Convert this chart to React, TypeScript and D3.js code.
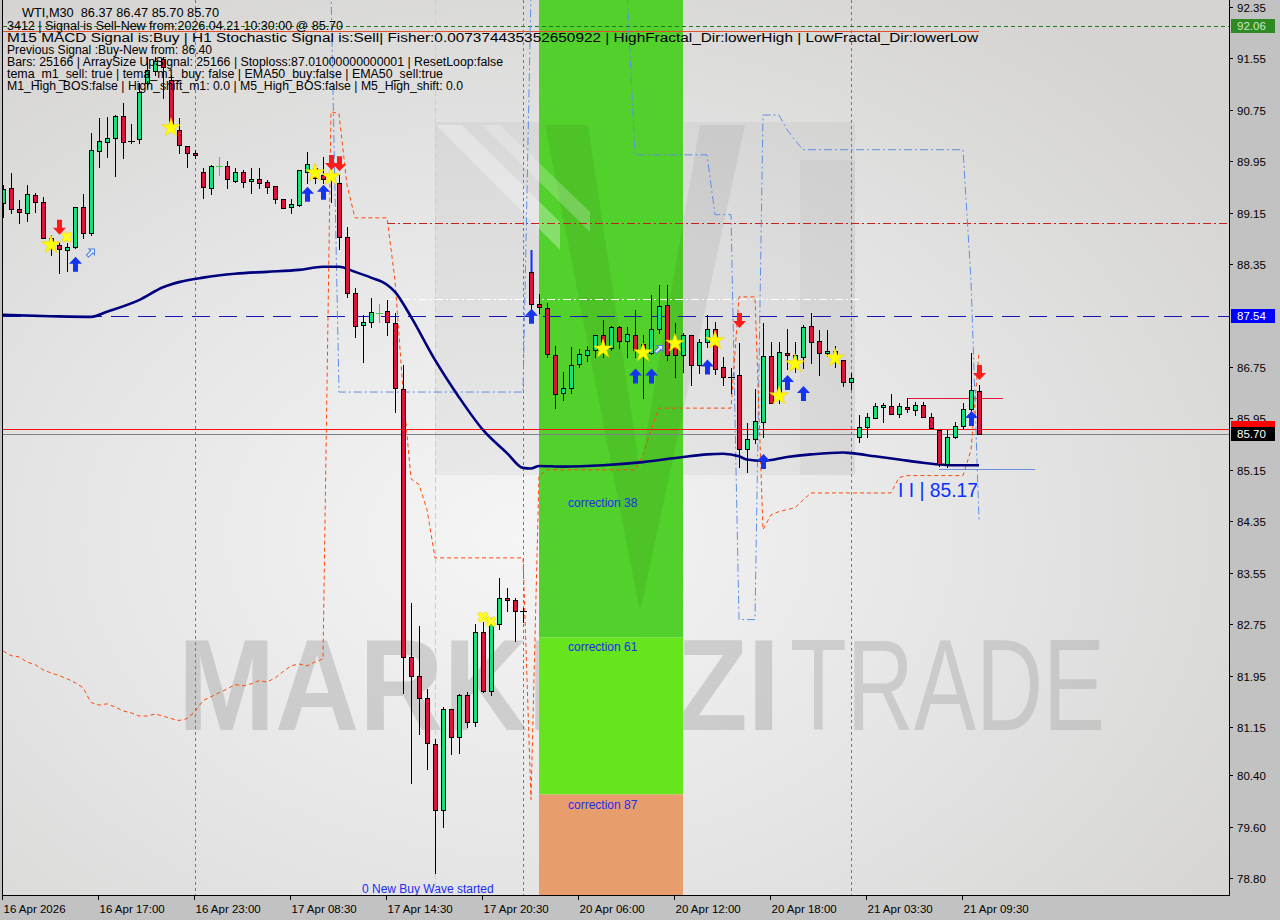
import React from "react";
import * as d3 from "d3";

// ---------- candles (M30, WTI) ----------
const open = [89.30,89.54,89.21,89.15,89.43,89.32,88.76,88.65,88.57,88.62,89.24,88.84,90.11,90.25,90.31,90.66,90.26,90.30,91.17,91.36,91.54,91.22,90.44,90.19,90.08,89.78,89.54,89.88,89.88,89.64,89.78,89.64,89.68,89.63,89.57,89.36,89.24,89.27,89.78,89.85,89.74,89.72,89.61,88.77,87.90,87.40,87.45,87.59,87.62,87.44,86.41,82.24,81.95,81.60,80.89,79.86,81.43,81.00,81.65,81.23,82.63,81.71,82.75,83.16,83.12,82.95,88.23,87.73,87.67,86.94,86.35,86.43,86.80,86.94,87.02,87.25,87.05,87.37,87.16,87.25,87.10,86.97,87.34,87.72,87.13,86.94,87.25,86.78,87.14,87.34,86.75,86.60,86.63,85.48,85.63,85.90,86.92,86.30,86.97,86.83,86.91,87.39,87.16,86.97,87.00,86.86,86.52,85.66,85.82,85.96,86.13,86.15,86.02,86.13,86.08,86.16,85.97,85.77,85.24,85.66,85.83,86.10,86.37];
const high = [89.58,89.77,89.35,89.58,89.46,89.40,88.80,88.70,88.68,89.24,89.44,90.39,90.62,90.64,90.67,90.86,90.53,91.17,91.57,91.57,91.57,91.29,90.62,90.19,90.13,89.85,89.89,90.02,89.96,89.85,89.82,89.85,89.85,89.66,89.57,89.36,89.36,89.82,90.10,89.89,90.02,89.85,89.74,88.93,87.98,87.56,87.82,87.73,87.79,87.59,86.78,83.08,82.72,81.74,80.97,81.46,81.43,81.67,81.70,82.75,82.79,82.85,83.46,83.31,83.16,83.00,88.57,87.89,87.75,87.08,86.67,87.06,87.03,87.08,87.25,87.48,87.39,87.39,87.37,87.64,87.25,87.87,88.03,88.03,87.44,87.28,87.25,87.19,87.56,87.45,86.91,86.74,87.13,85.88,86.41,87.44,87.14,87.14,87.34,87.14,87.41,87.59,87.33,87.33,87.08,86.86,86.66,86.01,86.04,86.19,86.19,86.33,86.19,86.27,86.21,86.21,86.04,85.77,85.77,85.90,86.19,86.97,86.47];
const low = [89.08,89.15,88.99,89.02,89.16,88.76,88.49,88.21,88.25,88.60,88.76,88.80,89.86,90.02,89.72,90.00,90.24,90.24,91.11,91.29,90.94,90.47,90.08,89.86,90.00,89.38,89.44,89.74,89.54,89.63,89.55,89.46,89.54,89.46,89.30,89.22,89.15,89.26,89.61,89.61,89.61,89.32,88.59,87.84,87.22,86.83,87.37,87.45,87.25,86.05,81.68,80.28,81.04,80.50,78.88,79.60,80.73,80.75,81.15,81.17,81.70,81.64,82.68,82.95,82.48,82.79,87.59,87.59,86.91,86.11,86.24,86.35,86.75,86.85,86.91,86.91,87.02,87.05,86.91,86.91,86.27,86.95,87.28,86.86,86.60,86.67,86.47,86.66,87.06,86.64,86.47,86.35,85.20,85.12,85.57,85.66,86.19,86.19,86.72,86.67,86.74,86.81,86.63,86.92,86.75,86.46,86.41,85.59,85.66,85.96,85.90,86.02,85.97,86.05,86.01,85.97,85.80,85.21,85.20,85.65,85.79,85.97,85.70];
const close = [89.52,89.21,89.16,89.44,89.32,88.76,88.65,88.59,88.62,89.24,88.84,90.13,90.27,90.31,90.66,90.25,90.26,91.03,91.37,91.51,91.42,90.52,90.20,90.08,90.05,89.55,89.88,89.88,89.68,89.78,89.63,89.68,89.61,89.55,89.36,89.22,89.29,89.82,89.91,89.69,89.68,89.66,88.77,87.90,87.39,87.45,87.61,87.59,87.45,86.43,82.24,81.95,81.60,80.90,79.86,81.43,81.00,81.65,81.23,82.63,81.71,82.75,83.15,83.12,82.95,82.95,87.73,87.68,86.95,86.33,86.43,86.78,86.95,87.02,87.25,87.08,87.37,87.16,87.27,87.02,86.97,87.34,87.70,86.94,86.94,87.25,86.78,87.14,87.34,86.72,86.60,86.60,85.48,85.63,85.91,86.92,86.19,86.98,86.94,86.94,87.37,87.14,86.97,87.00,86.92,86.52,86.58,85.82,85.97,86.15,86.16,86.02,86.15,86.10,86.16,85.97,85.80,85.24,85.66,85.83,86.10,86.39,85.70];
const limeDojiBars = [27, 47];
const blueWickBars = [66];

// ---------- axes ----------
const xTickBars = [0, 12, 24, 36, 48, 60, 72, 84, 96, 108, 120];
const xTickLabels = ["16 Apr 2026", "16 Apr 17:00", "16 Apr 23:00", "17 Apr 08:30", "17 Apr 14:30", "17 Apr 20:30", "20 Apr 06:00", "20 Apr 12:00", "20 Apr 18:00", "21 Apr 03:30", "21 Apr 09:30"];
const yTickLabels = ["92.35", "91.55", "90.75", "89.95", "89.15", "88.35", "86.75", "85.95", "85.15", "84.35", "83.55", "82.75", "81.95", "81.15", "80.40", "79.60", "78.80"];

// ---------- indicators ----------
const emaBars = [0,6,11,13,17,20,22,25,29,33,37,40,42,44,46,48,49,51,54,57,60,63,65,66,67,70,75,80,85,88,90,92,93,95,98,101,105,106,109,112,115,119,122];
const emaValues = [87.56,87.54,87.53,87.61,87.79,87.99,88.07,88.14,88.20,88.23,88.26,88.31,88.31,88.23,88.14,88.03,87.92,87.53,86.86,86.28,85.77,85.41,85.18,85.17,85.21,85.20,85.22,85.27,85.35,85.39,85.40,85.36,85.31,85.29,85.35,85.39,85.42,85.41,85.36,85.31,85.26,85.22,85.22];

const stopValues = [82.33,82.26,82.24,82.16,82.12,82.04,81.99,81.95,81.90,81.84,81.76,81.53,81.49,81.51,81.46,81.40,81.37,81.32,81.32,81.35,81.32,81.28,81.25,81.28,81.39,81.56,81.62,81.68,81.74,81.81,81.79,81.82,81.87,81.85,81.91,82.01,82.10,82.13,82.10,82.16,82.21,
  90.72,90.69,89.58,89.07,89.07,89.07,89.07,89.07,88.10,86.39,85.01,84.92,84.53,83.78,83.78,83.78,83.78,83.78,83.78,83.78,83.78,83.78,83.78,83.78,83.78,
  80.02,85.06,85.15,85.15,85.15,85.15,85.15,85.15,85.15,85.15,85.15,85.15,85.15,85.15,85.38,85.77,86.11,86.11,86.11,86.11,86.11,86.11,86.11,86.11,86.11,86.11,87.84,87.84,87.84,84.22,84.45,84.50,84.53,84.56,84.68,84.79,84.79,84.79,84.79,84.79,84.79,84.79,84.79,84.79,84.79,84.79,85.03,85.06,85.06,85.06,85.06,85.06,85.06,85.06,85.06,85.46,86.98];

const bandStartBar = 41;
const bandValues = [92.60,
  86.36,86.36,86.36,86.36,86.36,86.36,86.36,86.36,86.36,86.36,86.36,86.36,86.36,86.36,86.36,86.36,86.36,86.36,86.36,86.36,86.36,86.36,86.36,86.36,
  92.60,92.60,92.60,92.60,92.60,92.60,92.60,92.60,92.60,92.60,92.60,92.60,92.60,
  90.05,90.05,90.05,90.05,90.05,90.05,90.05,90.05,90.05,90.05,
  89.12,89.12,89.12,82.82,82.82,82.82,90.67,90.67,90.67,90.44,90.28,
  90.13,90.13,90.13,90.13,90.13,90.13,90.13,90.13,90.13,90.13,90.13,90.13,90.13,90.13,90.13,90.13,90.13,90.13,90.13,90.13,90.13,
  88.10,84.37];

// ---------- markers ----------
const starBars = [6, 21, 39, 41, 75, 80, 84, 89, 97, 99, 104];
const starPrices = [88.65, 90.47, 89.77, 89.71, 87.03, 86.97, 87.12, 87.16, 86.30, 86.80, 86.89];
const crossBars = [8, 60, 61];
const crossPrices = [88.77, 82.86, 82.79];
const upArrowBars = [9, 38, 40, 66, 79, 81, 88, 95, 98, 100, 121];
const upArrowPrices = [88.34, 89.43, 89.46, 87.53, 86.60, 86.60, 86.74, 85.27, 86.50, 86.33, 85.94];
const downArrowBars = [7, 41, 42, 92, 122];
const downArrowPrices = [88.93, 89.94, 89.92, 87.48, 86.67];
const diagArrowBars = [11, 82];
const diagArrowPrices = [88.53, 87.03];

// ---------- levels ----------
const askLevel = 92.06;
const topRedLevel = 91.98;
const stopLevel = 87.54;
const darkRedLevel = 88.99;
const whiteLevel = 87.81;
const redLevel = 85.79;
const bidLevel = 85.70;
const shortRedLevel = 86.27;
const waveLevel = 85.17;

// correction zone
const zoneStartBar = 67;
const zoneEndBar = 85;
const zoneTop = 92.7;
const zone61 = 82.54;
const zone87 = 80.10;
const zoneBottom = 78.5;
const zoneLabels = ["correction 38", "correction 61", "correction 87"];
const zoneLabelPrices = [84.57, 82.33, 79.88];

const infoLines = [
  "WTI,M30  86.37 86.47 85.70 85.70",
  "3412 | Signal is Sell-New from:2026.04.21 10:30:00 @ 85.70",
  "M15 MACD Signal is:Buy | H1 Stochastic Signal is:Sell| Fisher:0.007374435352650922 | HighFractal_Dir:lowerHigh | LowFractal_Dir:lowerLow",
  "Previous Signal :Buy-New from: 86.40",
  "Bars: 25166 | ArraySize UpSignal: 25166 | Stoploss:87.01000000000001 | ResetLoop:false",
  "tema_m1_sell: true | tema_m1_buy: false | EMA50_buy:false | EMA50_sell:true",
  "M1_High_BOS:false | High_shift_m1: 0.0 | M5_High_BOS:false | M5_High_shift: 0.0",
];
const infoWidths = [197, 336, 971, 205, 496, 436, 456];
const infoX = [22, 7, 7, 7, 7, 7, 7];
const infoY = [17, 30, 42, 54, 66, 78, 90];

const FONT = "'Liberation Sans', Arial, sans-serif";

export default function App() {
  const x = d3.scaleLinear().domain([0, 122]).range([3, 979]);
  const y = d3.scaleLinear().domain([78.8, 92.35]).range([878, 7]);
  const bars = d3.range(close.length);
  const plotL = 3, plotR = 1229, plotB = 895;

  const emaLine = d3.line<number>().x((d, k) => x(emaBars[k])).y(d => y(d)).curve(d3.curveMonotoneX);
  const stopLine = d3.line<number>().x((d, k) => x(k)).y(d => y(d));
  const bandLine = d3.line<number>().x((d, k) => x(bandStartBar + k)).y(d => y(d));

  const starPath = d3.symbol(d3.symbolStar, 110)() as string;
  const crossPath = d3.symbol(d3.symbolCross, 70)() as string;
  const upArrow = "M0,-8 L6.5,-1 L2.5,-1 L2.5,7 L-2.5,7 L-2.5,-1 L-6.5,-1 Z";
  const downArrow = "M0,8 L6.5,1 L2.5,1 L2.5,-7 L-2.5,-7 L-2.5,1 L-6.5,1 Z";
  const diagArrow = "M0,-5 L4,-1 L1.5,-1 L1.5,5 L-1.5,5 L-1.5,-1 L-4,-1 Z";

  const hy = (v: number) => Math.round(y(v)) + 0.5;

  return (
    <svg width={1280} height={920} style={{ position: "absolute", left: 0, top: 0, display: "block" }} fontFamily={FONT}>
      <defs>
        <radialGradient id="bgGrad" cx="0.42" cy="0.6" r="0.72">
          <stop offset="0" stopColor="#f5f5f5" />
          <stop offset="0.55" stopColor="#e4e4e4" />
          <stop offset="1" stopColor="#d5d4d2" />
        </radialGradient>
        <clipPath id="plotClip">
          <rect x={plotL} y={0} width={plotR - plotL} height={plotB} />
        </clipPath>
      </defs>
      <rect x={0} y={0} width={1280} height={920} fill="#c2c2c2" />
      <rect x={plotL} y={0} width={plotR - plotL} height={plotB} fill="url(#bgGrad)" />

      <g clipPath="url(#plotClip)">
        {/* watermark text */}
        <text x={178} y={730} fontSize={130} fontWeight="bold" fill="#9c9c9c" opacity={0.38} textLength={602} lengthAdjust="spacingAndGlyphs">MARKETZI</text>
        <text x={790} y={730} fontSize={130} fill="#a8a8a8" opacity={0.42} textLength={315} lengthAdjust="spacingAndGlyphs">TRADE</text>

        {/* logo box */}
        <rect x={435} y={122} width={420} height={353} fill="#000" opacity={0.04} />

        {/* correction zone */}
        <rect x={x(zoneStartBar)} y={y(zoneTop)} width={x(zoneEndBar) - x(zoneStartBar)} height={y(zone61) - y(zoneTop)} fill="#52d02b" />
        <rect x={x(zoneStartBar)} y={y(zone61)} width={x(zoneEndBar) - x(zoneStartBar)} height={y(zone87) - y(zone61)} fill="#66e41c" />
        <rect x={x(zoneStartBar)} y={y(zone87)} width={x(zoneEndBar) - x(zoneStartBar)} height={y(zoneBottom) - y(zone87)} fill="#e89e6c" />

        {/* logo shapes */}
        <polygon points="545,125 588,125 640,470 700,125 745,125 640,612" fill="#000" opacity={0.06} />
        <polygon points="436,125 462,125 560,222 560,250" fill="#fff" opacity={0.3} />
        <polygon points="482,125 500,125 590,212 590,232" fill="#fff" opacity={0.22} />
        <polygon points="800,160 855,160 855,475 800,475" fill="#000" opacity={0.03} />

        {zoneLabels.map((t, k) => (
          <text key={t} x={x(zoneStartBar) + 29} y={y(zoneLabelPrices[k])} fontSize={12} fill="#1c2cf0">{t}</text>
        ))}
        <text x={362} y={893} fontSize={12} fill="#1c2cf0">0 New Buy Wave started</text>

        {/* period separators */}
        {[24, 65, 106].map(b => (
          <line key={b} x1={x(b) + 0.5} x2={x(b) + 0.5} y1={0} y2={plotB} stroke="#7a7a7a" strokeDasharray="3,3" />
        ))}
        <line x1={x(54) + 0.5} x2={x(54) + 0.5} y1={0} y2={plotB} stroke="#bcd4d4" strokeDasharray="6,3" />

        {/* horizontal levels */}
        <line x1={plotL} x2={plotR} y1={hy(askLevel)} y2={hy(askLevel)} stroke="#1f7a1f" strokeDasharray="4,3" />
        <line x1={plotL} x2={x(122)} y1={hy(topRedLevel)} y2={hy(topRedLevel)} stroke="#e0502a" />
        <line x1={x(48)} x2={plotR} y1={hy(darkRedLevel)} y2={hy(darkRedLevel)} stroke="#c81e1e" strokeDasharray="8,3,2,3" />
        <line x1={x(48)} x2={x(107)} y1={hy(whiteLevel)} y2={hy(whiteLevel)} stroke="#ffffff" strokeDasharray="8,3,2,3" />
        <line x1={plotL} x2={plotR} y1={hy(stopLevel)} y2={hy(stopLevel)} stroke="#1414b4" strokeDasharray="18,9" />
        <line x1={plotL} x2={plotR} y1={hy(redLevel)} y2={hy(redLevel)} stroke="#ff1010" />
        <line x1={plotL} x2={plotR} y1={hy(bidLevel)} y2={hy(bidLevel)} stroke="#7c8088" />
        <line x1={x(113)} x2={x(125)} y1={hy(shortRedLevel)} y2={hy(shortRedLevel)} stroke="#e8143c" />
        <line x1={x(113) + 0.5} x2={x(113) + 0.5} y1={hy(shortRedLevel)} y2={hy(shortRedLevel) + 7} stroke="#e8143c" />
        <line x1={x(117)} x2={x(129)} y1={hy(waveLevel)} y2={hy(waveLevel)} stroke="#6a8ee0" />

        {/* indicator lines */}
        <path d={bandLine(bandValues) as string} fill="none" stroke="#5f8fe6" strokeDasharray="8,3,2,3" />
        <path d={stopLine(stopValues) as string} fill="none" stroke="#ff4a0a" strokeDasharray="4,3" />
        <path d={emaLine(emaValues) as string} fill="none" stroke="#00007e" strokeWidth={2.6} />

        {/* candles: wicks */}
        {bars.map(i => {
          const cx = x(i) + 0.5;
          const lime = limeDojiBars.includes(i);
          const top = Math.round(y(Math.max(open[i], close[i])));
          if (blueWickBars.includes(i)) {
            return (
              <g key={"w" + i}>
                <line x1={cx} x2={cx} y1={Math.round(y(high[i]))} y2={top} stroke="#1030ff" strokeWidth={2} />
                <line x1={cx} x2={cx} y1={top} y2={Math.round(y(low[i]))} stroke="#000" />
              </g>
            );
          }
          return <line key={"w" + i} x1={cx} x2={cx} y1={Math.round(y(high[i]))} y2={Math.round(y(low[i])) + 1} stroke={lime ? "#3ccf3c" : "#000"} />;
        })}
        {/* candles: bodies */}
        {bars.map(i => {
          const cx = x(i);
          const o = open[i], c = close[i];
          const yT = Math.round(y(Math.max(o, c)));
          const yB = Math.round(y(Math.min(o, c)));
          if (Math.abs(c - o) < 0.005) {
            const lime = limeDojiBars.includes(i);
            return <line key={"b" + i} x1={cx - 3} x2={cx + 4} y1={yT + 0.5} y2={yT + 0.5} stroke={lime ? "#3ccf3c" : "#000"} />;
          }
          return (
            <rect key={"b" + i} x={cx - 1.5} y={yT + 0.5} width={4} height={Math.max(yB - yT, 1)}
              fill={c > o ? "#14e07c" : "#dc143c"} stroke="#000" strokeWidth={1} />
          );
        })}

        {/* markers */}
        {starBars.map((b, k) => (
          <path key={"s" + k} d={starPath} transform={`translate(${x(b)},${y(starPrices[k])})`} fill="#ffff00" stroke="#f0d000" strokeWidth={0.6} />
        ))}
        {crossBars.map((b, k) => (
          <path key={"c" + k} d={crossPath} transform={`translate(${x(b)},${y(crossPrices[k])}) rotate(45)`} fill="#ffff20" stroke="#e8d000" strokeWidth={0.6} />
        ))}
        {upArrowBars.map((b, k) => (
          <path key={"u" + k} d={upArrow} transform={`translate(${x(b) + 0.5},${y(upArrowPrices[k])})`} fill="#1434f0" />
        ))}
        {downArrowBars.map((b, k) => (
          <path key={"d" + k} d={downArrow} transform={`translate(${x(b) + 0.5},${y(downArrowPrices[k])})`} fill="#ff1a1a" />
        ))}
        {diagArrowBars.map((b, k) => (
          <path key={"g" + k} d={diagArrow} transform={`translate(${x(b)},${y(diagArrowPrices[k])}) rotate(45)`} fill="#e8eefc" stroke="#4a7de0" strokeWidth={1} />
        ))}

        <text x={898} y={497} fontSize={20} fill="#0c30ff" textLength={80} lengthAdjust="spacingAndGlyphs">I I | 85.17</text>

        {/* info text */}
        {infoLines.map((t, k) => (
          <text key={"i" + k} x={infoX[k]} y={infoY[k]} fontSize={12} fill="#000" style={{ whiteSpace: "pre" }}
            textLength={infoWidths[k]} lengthAdjust="spacingAndGlyphs">{t}</text>
        ))}
      </g>

      {/* frame */}
      <line x1={2.5} x2={2.5} y1={0} y2={plotB + 1} stroke="#000" />
      <line x1={plotR + 0.5} x2={plotR + 0.5} y1={0} y2={plotB + 1} stroke="#000" />
      <line x1={2} x2={plotR + 1} y1={plotB + 0.5} y2={plotB + 0.5} stroke="#000" />

      {/* y axis */}
      {yTickLabels.map(t => {
        const yy = Math.round(y(+t)) + 0.5;
        return (
          <g key={t}>
            <line x1={plotR} x2={plotR + 4} y1={yy} y2={yy} stroke="#000" />
            <text x={1237} y={yy + 4} fontSize={11.5} fill="#000">{t}</text>
          </g>
        );
      })}
      {/* price tags */}
      <rect x={1231} y={Math.round(y(askLevel)) - 7} width={44} height={14} fill="#2e8b22" />
      <text x={1237} y={Math.round(y(askLevel)) + 4} fontSize={11.5} fill="#cfe8c8">92.06</text>
      <rect x={1231} y={Math.round(y(stopLevel)) - 7} width={44} height={14} fill="#0000ff" />
      <text x={1237} y={Math.round(y(stopLevel)) + 4} fontSize={11.5} fill="#fff">87.54</text>
      <rect x={1231} y={Math.round(y(redLevel)) - 8} width={44} height={14} fill="#ff0000" />
      <rect x={1231} y={Math.round(y(bidLevel)) - 7} width={44} height={14} fill="#000" />
      <text x={1237} y={Math.round(y(bidLevel)) + 4} fontSize={11.5} fill="#fff">85.70</text>

      {/* x axis */}
      {xTickBars.map((b, k) => {
        const xx = x(b) - 0.5;
        return (
          <g key={b}>
            <line x1={xx} x2={xx} y1={plotB} y2={plotB + 5} stroke="#000" />
            <text x={xx + 1} y={913} fontSize={11.5} fill="#000">{xTickLabels[k]}</text>
          </g>
        );
      })}
    </svg>
  );
}
